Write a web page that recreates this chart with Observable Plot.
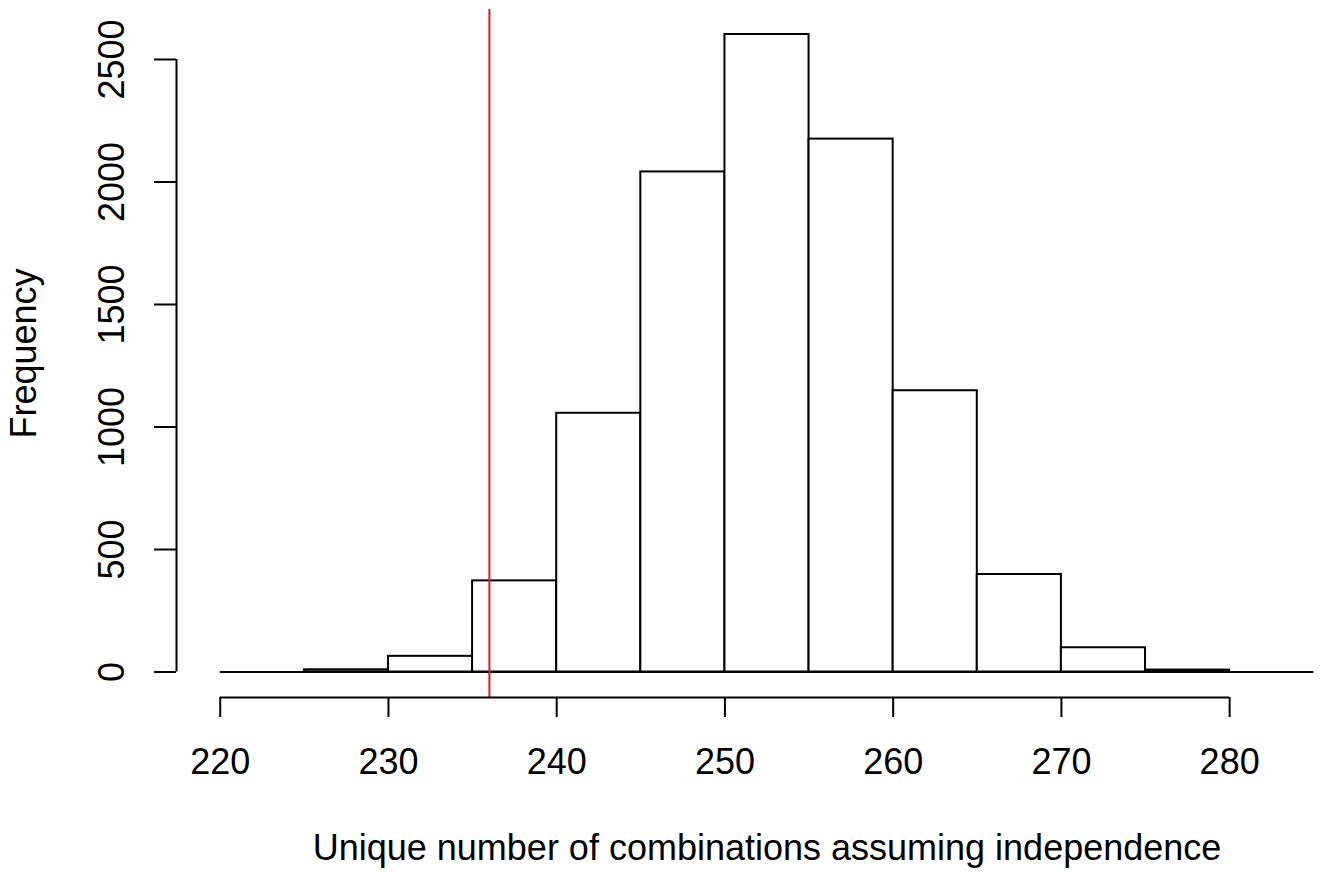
<!DOCTYPE html>
<html>
<head>
<meta charset="utf-8">
<script src="https://cdn.jsdelivr.net/npm/d3@7"></script>
<script src="https://cdn.jsdelivr.net/npm/@observablehq/plot@0.6"></script>
<style>
  html, body { margin: 0; padding: 0; background: #fff; }
  #chart svg { display: block; }
</style>
</head>
<body>
<div id="chart"></div>
<script>
// Histogram bins (lower / upper edge) and counts
const binStart = [225, 230, 235, 240, 245, 250, 255, 260, 265, 270, 275];
const binEnd   = [230, 235, 240, 245, 250, 255, 260, 265, 270, 275, 280];
const counts   = [9, 64, 372, 1056, 2041, 2602, 2175, 1148, 398, 99, 8];
const observed = [236];
const xTicks = [220, 230, 240, 250, 260, 270, 280];
const yTicks = [0, 500, 1000, 1500, 2000, 2500];
const xLabel = "Unique number of combinations assuming independence";
const yLabel = "Frequency";
const xlim = [220, 285];
const ylim = [0, 2600];

const bins = binStart.map((s, i) => ({x1: s, x2: binEnd[i], y: counts[i]}));

const pad = (a) => [a[0] - 0.04 * (a[1] - a[0]), a[1] + 0.04 * (a[1] - a[0])];
const xDom = pad(xlim);
const yDom = pad(ylim);
const font = "'Liberation Sans', Arial, Helvetica, sans-serif";
const fs = 36;

const chart = Plot.plot({
  width: 1328,
  height: 874,
  marginLeft: 176,
  marginRight: 0,
  marginTop: 9,
  marginBottom: 177,
  style: {fontFamily: font, background: "#fff", color: "#000"},
  x: {type: "linear", domain: xDom, range: [176, 1357], axis: null},
  y: {type: "linear", domain: yDom, range: [697, 9], axis: null},
  marks: [
    Plot.ruleY([0], {x1: xlim[0], x2: xlim[1], stroke: "#000", strokeWidth: 2}),
    Plot.rectY(bins, {x1: "x1", x2: "x2", y: "y", fill: "#fff", stroke: "#000", strokeWidth: 2, inset: 0}),
    Plot.ruleX(observed, {stroke: "#e8141e", strokeWidth: 2}),
    // x axis
    Plot.ruleY([yDom[0]], {x1: d3.min(xTicks), x2: d3.max(xTicks), stroke: "#000", strokeWidth: 2}),
    Plot.axisX(xTicks, {anchor: "bottom", tickSize: 20, tickPadding: 31, fontSize: fs, strokeWidth: 2, stroke: "#000", fill: "#000", label: null}),
    // y axis
    Plot.ruleX([xDom[0]], {y1: d3.min(yTicks), y2: d3.max(yTicks), stroke: "#000", strokeWidth: 2}),
    Plot.axisY(yTicks, {anchor: "left", tickSize: 22, tickFormat: () => "", strokeWidth: 2, stroke: "#000", label: null}),
    Plot.text(yTicks, {x: xDom[0], y: d => d, text: d => String(d), rotate: -90, dx: -64, lineAnchor: "middle", textAnchor: "middle", fontSize: fs, fill: "#000"}),
    // axis titles
    Plot.text([xLabel], {x: (xDom[0] + xDom[1]) / 2, y: yDom[0], dy: 151, text: d => d, lineAnchor: "middle", textAnchor: "middle", fontSize: fs, fill: "#000"}),
    Plot.text([yLabel], {x: xDom[0], y: (yDom[0] + yDom[1]) / 2, dx: -152, text: d => d, rotate: -90, lineAnchor: "middle", textAnchor: "middle", fontSize: fs, fill: "#000"})
  ]
});
document.getElementById("chart").appendChild(chart);
</script>
</body>
</html>
